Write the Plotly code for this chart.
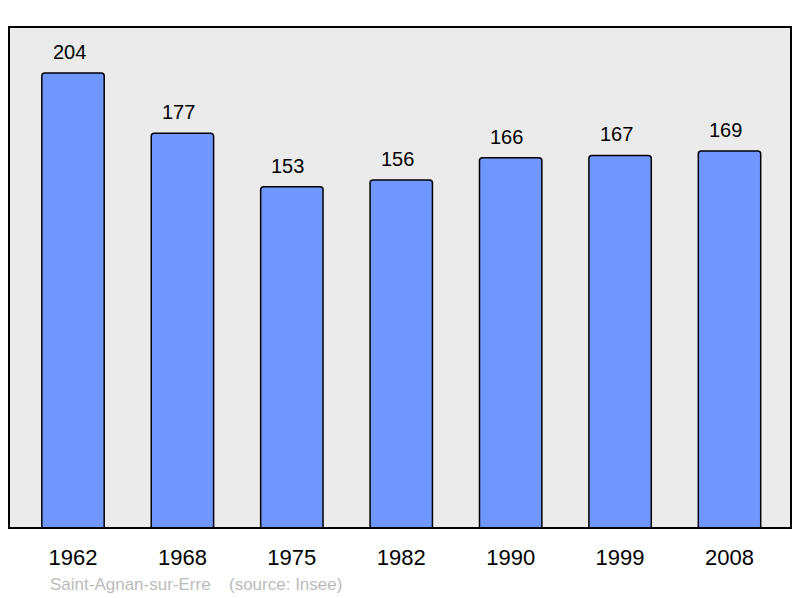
import plotly.graph_objects as go

years = ["1962", "1968", "1975", "1982", "1990", "1999", "2008"]
population = [204, 177, 153, 156, 166, 167, 169]
commune = "Saint-Agnan-sur-Erre"
source = "(source: Insee)"

FONT = "Liberation Sans, Arial, sans-serif"

fig = go.Figure()
fig.add_trace(
    go.Bar(
        x=years,
        y=population,
        width=0.57,
        marker=dict(color="#7096ff", line=dict(color="#000000", width=1.5), cornerradius=3),
        hoverinfo="x+y",
    )
)

# value labels above each bar (x given as category index)
for i, val in enumerate(population):
    fig.add_annotation(
        x=i, y=val, text=str(val), showarrow=False,
        yanchor="bottom", yshift=8, xshift=-4,
        font=dict(family=FONT, size=20, color="#000000"),
    )

fig.add_annotation(
    xref="paper", yref="paper", x=0.0495, y=-0.112,
    text=commune, showarrow=False, xanchor="left", yanchor="middle",
    font=dict(family=FONT, size=17, color="#bbbbbb"),
)
fig.add_annotation(
    xref="paper", yref="paper", x=0.279, y=-0.112,
    text=source, showarrow=False, xanchor="left", yanchor="middle",
    font=dict(family=FONT, size=17, color="#bbbbbb"),
)

# plot frame
fig.add_shape(
    type="rect", xref="paper", yref="paper", x0=0, y0=0, x1=1, y1=1,
    line=dict(color="#000000", width=2), layer="above",
)

fig.update_layout(
    width=800, height=598,
    margin=dict(l=9, r=9, t=27, b=70),
    paper_bgcolor="#ffffff",
    plot_bgcolor="#ebebeb",
    showlegend=False,
    xaxis=dict(
        type="category", range=[-0.585, 6.562],
        showgrid=False, zeroline=False, showline=False,
        ticks="outside", ticklen=10, tickcolor="rgba(0,0,0,0)",
        tickfont=dict(family=FONT, size=22, color="#000000"),
    ),
    yaxis=dict(
        range=[0, 224.6], showgrid=False, zeroline=False,
        showticklabels=False, showline=False,
    ),
)

# drop the default 8px page margin so the figure fills the window
fig.write_html(
    "out.html",
    config={"displayModeBar": False},
    post_script="document.body.style.margin='0';",
)
